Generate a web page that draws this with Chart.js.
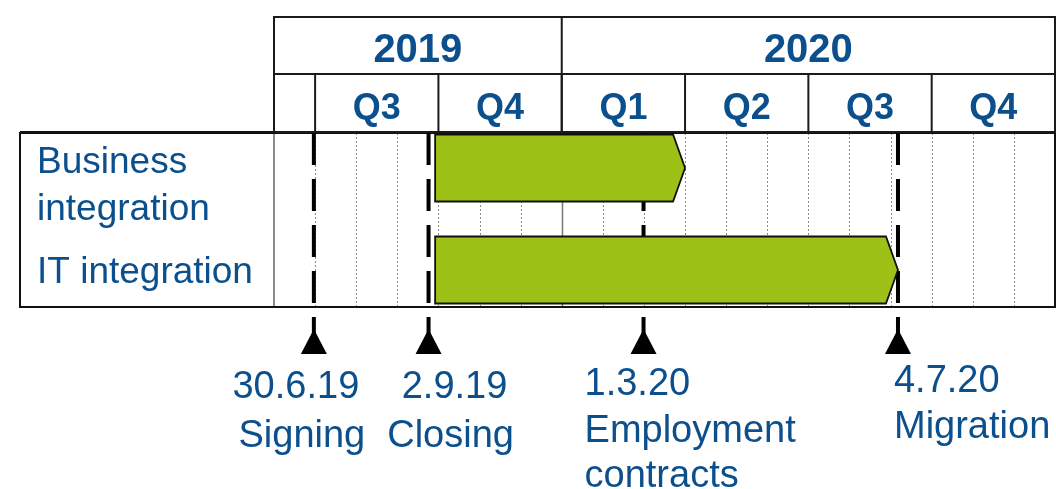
<!DOCTYPE html>
<html>
<head>
<meta charset="utf-8">
<script src="https://cdn.jsdelivr.net/npm/chart.js@4.4.1/dist/chart.umd.min.js"></script>
<style>
  html, body { margin: 0; background: #fff; }
  #wrap { width: 1056px; height: 489px; }
</style>
</head>
<body>
<div id="wrap"><canvas id="gantt"></canvas></div>
<script>
"use strict";

// timeline runs in months counted from 1 June 2019 (0) to end of Dec 2020 (19)
const years = ["2019", "2020"];
const yearBounds = [0, 7, 19];
const quarters = ["Q3", "Q4", "Q1", "Q2", "Q3", "Q4"];
const quarterBounds = [1, 4, 7, 10, 13, 16, 19];

const tasks = [["Business", "integration"], ["IT integration"]];
const taskStart = [3.92, 3.92];
const taskEnd = [10, 15.18];

const milestoneDates = ["30.6.19", "2.9.19", "1.3.20", "4.7.20"];
const milestoneNames = [["Signing"], ["Closing"], ["Employment", "contracts"], ["Migration"]];
const milestoneAt = [0.97, 3.76, 8.99, 15.18];

const BLUE = "#0b4f8d";
const GREEN = "#9dc116";
const FONT = "'Liberation Sans', Arial, sans-serif";

// hand placed text, as in the original slide
const rowLabelDy = [[5, 52], [13]];
const milestoneText = [
  { align: "center", dx: [-18, -12], y: [398, 447] },
  { align: "center", dx: [26, 22], y: [398, 447] },
  { align: "left", dx: [-59, -59, -59], y: [395, 442, 487] },
  { align: "left", dx: [-4, -4], y: [392, 438] },
];

const BODY_TOP = 133, BODY_BOT = 307, BODY_LEFT = 20;
const HEAD_TOP = 17, HEAD_MID = 74, HEAD_BOT = 132;

function line(ctx, x1, y1, x2, y2) {
  ctx.beginPath();
  ctx.moveTo(x1, y1);
  ctx.lineTo(x2, y2);
  ctx.stroke();
}

const ganttPlugin = {
  id: "gantt",
  beforeDatasetsDraw(chart) {
    const { ctx } = chart;
    const px = (v) => chart.scales.x.getPixelForValue(v);
    const L = px(0), R = px(19);
    ctx.save();

    // month grid in the body
    for (let m = 1; m < 19; m++) {
      const x = Math.round(px(m)) + 0.5;
      if (yearBounds.includes(m)) {
        ctx.setLineDash([]);
        ctx.strokeStyle = "#777";
        ctx.lineWidth = 1.5;
      } else {
        ctx.setLineDash([2, 2]);
        ctx.strokeStyle = "#8a8a8a";
        ctx.lineWidth = 1;
      }
      line(ctx, x, BODY_TOP, x, BODY_BOT);
    }
    ctx.setLineDash([]);
    ctx.strokeStyle = "#666";
    ctx.lineWidth = 1.5;
    line(ctx, L, BODY_TOP, L, BODY_BOT);

    // body frame
    ctx.strokeStyle = "#111";
    ctx.lineWidth = 2;
    ctx.strokeRect(BODY_LEFT, BODY_TOP, R - BODY_LEFT, BODY_BOT - BODY_TOP);
    ctx.lineWidth = 3;
    line(ctx, BODY_LEFT, BODY_TOP - 0.5, R, BODY_TOP - 0.5);

    // header table
    ctx.strokeStyle = "#1a1a1a";
    ctx.lineWidth = 2;
    ctx.strokeRect(L, HEAD_TOP, R - L, HEAD_BOT - HEAD_TOP);
    line(ctx, L, HEAD_MID, R, HEAD_MID);
    yearBounds.forEach((v) => line(ctx, px(v), HEAD_TOP, px(v), HEAD_BOT));
    quarterBounds.forEach((v) => line(ctx, px(v), HEAD_MID, px(v), HEAD_BOT));

    ctx.fillStyle = BLUE;
    ctx.textAlign = "center";
    ctx.textBaseline = "alphabetic";
    ctx.font = `bold 40px ${FONT}`;
    years.forEach((y, i) => ctx.fillText(y, (px(yearBounds[i]) + px(yearBounds[i + 1])) / 2, 62));
    ctx.font = `bold 36px ${FONT}`;
    quarters.forEach((q, i) => ctx.fillText(q, (px(quarterBounds[i]) + px(quarterBounds[i + 1])) / 2, 119));

    // milestone lines and triangles
    ctx.strokeStyle = "#000";
    ctx.fillStyle = "#000";
    ctx.lineWidth = 4;
    milestoneAt.forEach((v) => {
      const x = px(v);
      ctx.setLineDash([32, 14]);
      line(ctx, x, BODY_TOP, x, 349);
      ctx.setLineDash([]);
      ctx.beginPath();
      ctx.moveTo(x, 329);
      ctx.lineTo(x + 13, 354);
      ctx.lineTo(x - 13, 354);
      ctx.closePath();
      ctx.fill();
    });
    ctx.restore();
  },
  afterDatasetsDraw(chart) {
    const { ctx } = chart;
    const px = (v) => chart.scales.x.getPixelForValue(v);
    const meta = chart.getDatasetMeta(0);
    ctx.save();

    // arrow shaped bars from the bar elements
    meta.data.forEach((bar) => {
      const { x, y, base, height } = bar.getProps(["x", "y", "base", "height"], true);
      const h = height / 2, head = 12;
      ctx.beginPath();
      ctx.moveTo(base, y - h);
      ctx.lineTo(x - head, y - h);
      ctx.lineTo(x, y);
      ctx.lineTo(x - head, y + h);
      ctx.lineTo(base, y + h);
      ctx.closePath();
      ctx.fillStyle = GREEN;
      ctx.fill();
      ctx.strokeStyle = "#111";
      ctx.lineWidth = 1.8;
      ctx.stroke();
    });

    // row labels
    ctx.fillStyle = BLUE;
    ctx.textAlign = "left";
    ctx.textBaseline = "alphabetic";
    ctx.font = `37px ${FONT}`;
    tasks.forEach((lines, i) => {
      const yc = chart.scales.y.getPixelForValue(i);
      lines.forEach((t, j) => ctx.fillText(t, 37, yc + rowLabelDy[i][j]));
    });

    // milestone labels
    ctx.font = `38px ${FONT}`;
    milestoneAt.forEach((v, i) => {
      const lay = milestoneText[i];
      const texts = [milestoneDates[i], ...milestoneNames[i]];
      ctx.textAlign = lay.align;
      texts.forEach((t, j) => ctx.fillText(t, px(v) + lay.dx[j], lay.y[j]));
    });
    ctx.restore();
  },
};

new Chart(document.getElementById("gantt").getContext("2d"), {
  type: "bar",
  data: {
    labels: tasks.map((t) => t.join(" ")),
    datasets: [{
      data: taskStart.map((s, i) => [s, taskEnd[i]]),
      backgroundColor: "rgba(0,0,0,0)",
      borderWidth: 0,
      barThickness: 67,
    }],
  },
  options: {
    indexAxis: "y",
    responsive: true,
    maintainAspectRatio: false,
    animation: false,
    layout: { padding: { left: 274, right: 1, top: 168, bottom: 219 } },
    scales: {
      x: { type: "linear", min: 0, max: 19, display: false },
      y: { type: "category", offset: false, display: false },
    },
    plugins: { legend: { display: false }, tooltip: { enabled: false } },
  },
  plugins: [ganttPlugin],
});
</script>
</body>
</html>
